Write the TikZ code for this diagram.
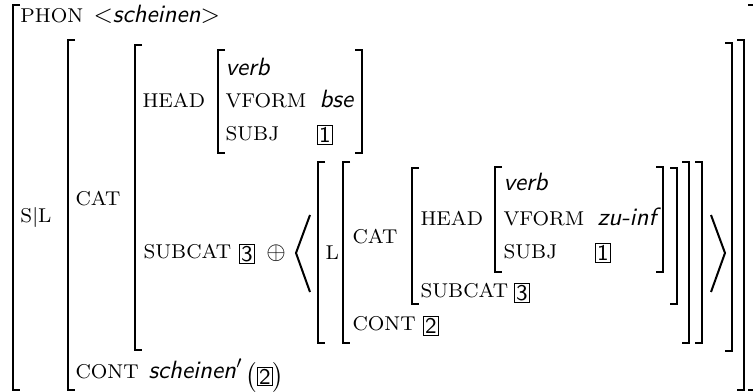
\documentclass[tikz,border=0pt]{standalone}
\usepackage{tikz}
\usetikzlibrary{positioning}

\tikzset{
  attr/.style={anchor=base west, inner sep=0pt, font=\footnotesize},
  val/.style={anchor=base west, inner sep=0pt, font=\sffamily\itshape},
  tag/.style={draw, line width=0.4pt, inner sep=0.7pt, font=\sffamily\small},
  brak/.style={line width=0.8pt},
}

\begin{document}
\begin{tikzpicture}[x=0.4pt, y=-0.4pt]
  \useasboundingbox (0,0) rectangle (753,392);

  % Outer matrix
  \draw[brak] (20,5) -| (13,390) -- (20,390);
  \draw[brak] (748,5) -| (755,390) -- (748,390);
  \node[attr] (phon) at (20,23) {PHON};
  \node[val]  (phonval) at (93,23) {$<$scheinen$>$};
  \node[attr] (sl) at (20,223) {S$|$L};

  % S|L value
  \draw[brak] (75,40) -| (68,390) -- (75,390);
  \draw[brak] (737,40) -| (744,390) -- (737,390);
  \node[attr] (cat) at (75,206) {CAT};
  \node[attr] (cont) at (75,378) {CONT};
  \node[val]  (contval) at (148,378) {scheinen$'$};
  \node[anchor=base west, inner sep=0pt, right=0.5pt of contval.base east]
    (contarg) {$\bigl($\tikz[baseline=(t.base)]\node[tag] (t) {2};$\bigr)$};

  % CAT value
  \draw[brak] (142,45) -| (135,350) -- (142,350);
  \draw[brak] (725,43) -| (732,351) -- (725,351);
  \node[attr] (head) at (142,108) {HEAD};
  \node[attr] (subcat) at (143,259) {SUBCAT};
  \node[tag]  (sc3) at (247,254) {3};
  \node (plus) at (276,253) {$\oplus$};

  % HEAD value
  \draw[brak] (225,50) -| (218,153) -- (225,153);
  \draw[brak] (355,50) -| (362,153) -- (355,153);
  \node[val]  (verb) at (225,76) {verb};
  \node[attr] (vform) at (225,108) {VFORM};
  \node[val]  (bse) at (319,108) {bse};
  \node[attr] (subj) at (225,141) {SUBJ};
  \node[tag]  (subj1) at (325,135) {1};

  % List brackets
  \draw[brak] (310,215) -- (296,253) -- (310,292);
  \draw[brak] (711,215) -- (725,253) -- (711,292);

  % List element
  \draw[brak] (325,162) -| (318,343) -- (325,343);
  \draw[brak] (695,162) -| (702,343) -- (695,343);
  \node[attr] (l) at (325,260) {L};

  % L value
  \draw[brak] (350,162) -| (343,343) -- (350,343);
  \draw[brak] (682,162) -| (689,343) -- (682,343);
  \node[attr] (cat2) at (352,244) {CAT};
  \node[attr] (cont2) at (352,331) {CONT};
  \node[tag]  (cont2tag) at (431,326) {2};

  % Inner CAT value
  \draw[brak] (419,168) -| (412,304) -- (419,304);
  \draw[brak] (670,168) -| (677,304) -- (670,304);
  \node[attr] (head2) at (420,226) {HEAD};
  \node[attr] (subcat2) at (420,298) {SUBCAT};
  \node[tag]  (sc3b) at (522,293) {3};

  % Inner HEAD value
  \draw[brak] (502,167) -| (495,272) -- (502,272);
  \draw[brak] (656,167) -| (663,272) -- (656,272);
  \node[val]  (verb2) at (503,191) {verb};
  \node[attr] (vform2) at (503,226) {VFORM};
  \node[val]  (zuinf) at (597,226) {zu-inf};
  \node[attr] (subj2) at (503,259) {SUBJ};
  \node[tag]  (subj2tag) at (603,253) {1};
\end{tikzpicture}
\end{document}
